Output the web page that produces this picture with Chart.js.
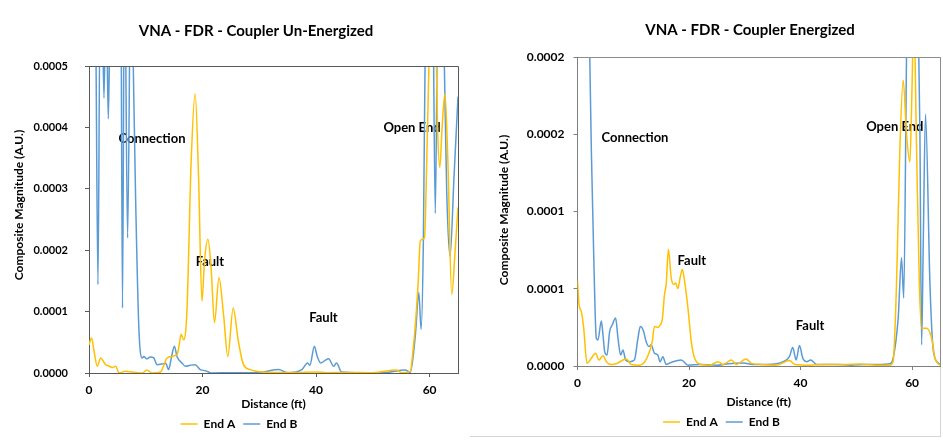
<!DOCTYPE html>
<html>
<head>
<meta charset="utf-8">
<script src="https://cdn.jsdelivr.net/npm/chart.js@4.4.1/dist/chart.umd.min.js"></script>
<style>
  html, body { margin: 0; padding: 0; background: #fff; }
  #wrap { position: relative; width: 943px; height: 445px; overflow: hidden; }
  #left { position: absolute; left: 0; top: 0; }
  #right { position: absolute; left: 470px; top: 0; }
  #frame { position: absolute; left: 470px; top: 57px; width: 470px; height: 379px;
           border-right: 1px solid #d4d4d4; border-bottom: 1px solid #d4d4d4; }
</style>
</head>
<body>
<div id="wrap">
  <canvas id="left" width="470" height="445"></canvas>
  <div id="frame"></div>
  <canvas id="right" width="473" height="445"></canvas>
</div>
<script>
// distances in ft, magnitudes in units of 1e-5 A.U.
const xTicks = [0, 20, 40, 60];

const yTicksUn = [0, 0.0001, 0.0002, 0.0003, 0.0004, 0.0005];
const yLabelsUn = ['0.0000', '0.0001', '0.0002', '0.0003', '0.0004', '0.0005'];
const yTicksEn = [0, 0.00005, 0.0001, 0.00015, 0.0002];
const yLabelsEn = ['0.0000', '0.0001', '0.0001', '0.0002', '0.0002'];

// Coupler Un-Energized, End A
const unEndA_ft = [0, 0.45, 0.9, 1.45, 2.05, 2.9, 3.6, 4.1, 4.7, 5.3, 6.4, 7.6, 9.4, 10.2, 11.1, 12.6,
  13.75, 14.6, 15.5, 15.8, 16.25, 16.65, 17.25, 18.0, 18.7, 19.3, 19.9, 20.35, 20.95, 21.5, 22.1, 22.9,
  23.7, 24.45, 25.4, 26.3, 27.2, 28.4, 30.7, 33, 36.6, 39.8, 42, 45.4, 50, 54.2, 55.1, 56.6, 57.0, 57.5,
  58.0, 58.35, 58.8, 59.1, 59.5, 60.0, 60.5, 61.0, 61.4, 61.8, 62.2, 62.7, 63.2, 63.9, 64.5, 65];
const unEndA_mag = [4.6, 5.7, 3.5, 1.1, 2.45, 1.4, 1.1, 0.9, 1.1, 0, 0.27, 0.16, 0, 0.5, 0, 0.16,
  2.45, 2.7, 3.0, 4.1, 6.3, 5.4, 10.1, 34.6, 45.5, 31.9, 11.7, 18.3, 21.8, 17.2, 8.2, 15.5,
  9.5, 2.7, 10.6, 5.2, 1.4, 0.55, 0.16, 0.1, 0.1, 0.16, 0.05, 0.1, 0.05, 0.5, 0.05, 0.27, 3.0, 8.0,
  15, 21.5, 21.8, 22, 34.6, 55, 70, 60, 40, 33.5, 40, 45.5, 35, 12.8, 20, 27];

// Coupler Un-Energized, End B
const unEndB_ft = [0, 0.6, 1.2, 1.58, 1.95, 2.3, 2.64, 2.95, 3.15, 3.4, 3.65, 4.2, 5.0, 5.6, 5.9, 6.25,
  6.8, 7.4, 7.8, 8.2, 8.78, 9.36, 9.65, 10.2, 10.8, 11.4, 12.0, 12.9, 13.5, 14.04, 14.5, 15.04, 15.5,
  16.4, 17.0, 17.8, 18.7, 19.6, 20.5, 21.6, 25, 30, 33.4, 35, 37.5, 38.5, 38.9, 39.7, 40.2, 40.8, 42.2,
  43.1, 43.6, 44.5, 48, 52, 55.7, 56.6, 57.5, 58.1, 58.5, 58.9, 59.3, 60, 60.6, 61.0, 61.4, 62.0, 62.6,
  63.0, 63.6, 64.3, 65];
const unEndB_mag = [80, 90, 55, 14.4, 60, 60, 44.8, 60, 55, 41.4, 55, 80, 90, 70, 10.6, 70,
  22, 70, 50, 29, 7.4, 2.45, 2.7, 2.3, 2.6, 2.45, 1.36, 1.47, 1.6, 0.55, 2.45, 4.36, 2.7,
  1.6, 1.1, 1.25, 1.36, 0.55, 0.38, 0, 0.05, 0.1, 0.55, 0.05, 0.55, 1.64, 1.25, 4.36, 2.7, 1.64, 2.34,
  1.1, 1.64, 0.16, 0.05, 0.05, 0.5, 0.1, 6.3, 13.1, 7.1, 21.5, 60, 80, 60, 26, 60, 80, 50,
  30, 19, 32, 45];

// Coupler Energized, End A
const enEndA_ft = [0, 0.27, 0.7, 1.1, 1.7, 2.48, 3.25, 3.85, 4.57, 5.17, 6.06, 6.96, 8.15, 8.75, 9.65,
  11.1, 12.0, 12.8, 13.4, 13.8, 14.4, 14.8, 15.2, 15.6, 15.9, 16.3, 16.8, 17.3, 17.6, 18.0, 18.4, 18.8,
  19.2, 19.8, 20.4, 21.0, 22.2, 23.7, 25.2, 26.1, 27.6, 28.5, 30.2, 31.2, 33, 35.7, 38.0, 39.0, 41.7, 44,
  47.6, 50.6, 53.6, 56.0, 56.6, 57.2, 57.8, 58.4, 59.0, 59.6, 60.0, 60.3, 60.8, 61.3, 61.7, 62.6, 63.5,
  64.1, 65];
const enEndA_mag = [5.5, 4.0, 3.5, 2.5, 0.17, 0.5, 0.82, 0.39, 0.67, 0.28, 0.1, 0.15, 0.39, 0.45, 0.1,
  0.05, 0.24, 0.82, 1.58, 2.56, 2.5, 2.63, 3.0, 4.62, 5.28, 7.55, 5.71, 5.28, 5.38, 5.01, 5.71, 6.25,
  5.49, 3.76, 1.58, 0.5, 0.1, 0.05, 0.28, 0.1, 0.39, 0.1, 0.45, 0.17, 0.1, 0.05, 0.35, 0.1, 0.05, 0.1,
  0.1, 0.13, 0.05, 0.05, 0.3, 5.27, 14, 18.5, 15, 13.2, 18.3, 23, 14, 5.27, 2.45, 2.45, 1.8,
  0.5, 0.05];

// Coupler Energized, End B
const enEndB_ft = [0, 1.0, 2.0, 2.2, 2.48, 2.96, 3.37, 3.67, 4.27, 4.57, 4.87, 5.29, 5.77, 6.24, 6.84,
  7.26, 7.74, 8.15, 8.63, 9.35, 10.2, 10.84, 11.26, 11.86, 12.3, 12.8, 13.2, 13.8, 14.4, 14.8, 15.3,
  15.9, 17.1, 18.6, 19.8, 22, 25, 27, 29.7, 31.5, 34, 36.9, 38.0, 38.6, 39.2, 39.8, 40.4, 41.1, 41.8,
  42.9, 46.5, 49, 51.8, 54, 56.0, 56.6, 57.5, 58.1, 58.5, 59.0, 59.5, 60.3, 61.0, 61.4, 61.7, 62.0,
  62.4, 63.2, 63.8, 64.7, 65];
const enEndB_mag = [40, 50, 25, 20, 14, 6.35, 1.8, 1.69, 2.92, 2.02, 0.93, 0.71, 2.24, 2.67, 3.1,
  1.8, 0.71, 1.04, 0.39, 0.28, 0.39, 1.8, 2.56, 2.24, 1.58, 1.26, 1.37, 0.82, 0.71, 0.28, 0.6,
  0.1, 0.28, 0.39, 0.05, 0.1, 0.05, 0.15, 0.2, 0.1, 0.1, 0.28, 0.6, 1.19, 0.39, 1.32, 0.5, 0.28, 0.39,
  0.1, 0.1, 0.05, 0.1, 0.1, 0.15, 0.5, 3.1, 7.0, 4.4, 20, 30, 35, 25, 15, 1.37, 8,
  16.3, 5.27, 1.0, 0.2, 0.1];

const COLOR_A = '#FFC000';
const COLOR_B = '#5B9BD5';

function toPoints(ft, mag) {
  return ft.map((d, i) => ({ x: d, y: mag[i] * 1e-5 }));
}

// chart title, rotated y title, plot frame and the text notes
const extras = {
  id: 'extras',
  beforeDatasetsDraw(chart, args, opts) {
    const { ctx, scales: { x, y } } = chart;
    ctx.save();
    ctx.fillStyle = '#000';
    ctx.font = 'bold 13px Lato';
    ctx.textAlign = 'center';
    ctx.textBaseline = 'middle';
    opts.notes.forEach(n => ctx.fillText(n.text, x.getPixelForValue(n.x), y.getPixelForValue(n.y)));
    ctx.restore();
  },
  afterDraw(chart, args, opts) {
    const { ctx, chartArea: a } = chart;
    ctx.save();
    ctx.strokeStyle = opts.frameColor;
    ctx.lineWidth = 1;
    ctx.beginPath();
    ctx.moveTo(Math.round(a.left), Math.round(a.top) + 0.5);
    ctx.lineTo(Math.round(a.right) + 0.5, Math.round(a.top) + 0.5);
    ctx.lineTo(Math.round(a.right) + 0.5, Math.round(a.bottom));
    ctx.stroke();

    ctx.fillStyle = '#000';
    ctx.textAlign = 'center';
    ctx.textBaseline = 'middle';
    ctx.font = 'bold 15px Lato';
    ctx.fillText(opts.title.text, opts.title.x, opts.title.y);

    ctx.font = 'bold 12px Lato';
    ctx.translate(opts.yTitle.x, opts.yTitle.y);
    ctx.rotate(-Math.PI / 2);
    ctx.fillText(opts.yTitle.text, 0, 0);
    ctx.restore();
  }
};

function buildChart(id, cfg) {
  const ctx = document.getElementById(id);
  return new Chart(ctx, {
    type: 'line',
    data: {
      datasets: [{
        label: 'End A',
        data: toPoints(cfg.aFt, cfg.aMag),
        borderColor: COLOR_A,
        backgroundColor: COLOR_A,
        borderWidth: 1.5,
        pointRadius: 0,
        cubicInterpolationMode: 'monotone'
      }, {
        label: 'End B',
        data: toPoints(cfg.bFt, cfg.bMag),
        borderColor: COLOR_B,
        backgroundColor: COLOR_B,
        borderWidth: 1.5,
        pointRadius: 0,
        cubicInterpolationMode: 'monotone'
      }]
    },
    options: {
      responsive: false,
      animation: false,
      events: [],
      layout: { padding: cfg.padding },
      scales: {
        x: {
          type: 'linear',
          min: 0,
          max: 65,
          afterBuildTicks: s => { s.ticks = xTicks.map(v => ({ value: v })); },
          afterFit: s => { s.height = cfg.xHeight; },
          grid: { drawOnChartArea: false, tickLength: 4, color: cfg.axisColor },
          border: { color: cfg.axisColor },
          ticks: { padding: 6, color: '#000', font: { size: 12, weight: 'bold' } },
          title: {
            display: true, text: 'Distance (ft)', color: '#000',
            font: { size: 12, weight: 'bold', lineHeight: 1 }, padding: { top: 0, bottom: 0 }
          }
        },
        y: {
          min: 0,
          max: cfg.yTicks[cfg.yTicks.length - 1],
          afterBuildTicks: s => { s.ticks = cfg.yTicks.map(v => ({ value: v })); },
          afterFit: s => { s.width = cfg.yWidth; },
          grid: { drawOnChartArea: false, tickLength: 4, color: cfg.axisColor },
          border: { color: cfg.axisColor },
          ticks: {
            padding: cfg.yPad, color: '#000',
            font: { size: cfg.yFont, weight: 'bold' },
            callback: (v, i) => cfg.yLabels[i]
          }
        }
      },
      plugins: {
        title: { display: false },
        tooltip: { enabled: false },
        legend: {
          position: 'bottom',
          labels: {
            usePointStyle: true,
            pointStyle: 'line',
            pointStyleWidth: 17,
            boxHeight: 12,
            padding: 8,
            color: '#000',
            font: { size: 12, weight: 'bold' }
          }
        },
        extras: {
          frameColor: cfg.frameColor,
          title: cfg.title,
          yTitle: cfg.yTitle,
          notes: cfg.notes
        }
      }
    },
    plugins: [extras]
  });
}

Chart.defaults.font.family = 'Lato';

buildChart('left', {
  aFt: unEndA_ft, aMag: unEndA_mag, bFt: unEndB_ft, bMag: unEndB_mag,
  yTicks: yTicksUn, yLabels: yLabelsUn,
  padding: { left: 20, right: 12, top: 66, bottom: 5 },
  xHeight: 37, yWidth: 69, yPad: 17, yFont: 11,
  axisColor: '#595959', frameColor: '#595959',
  title: { text: 'VNA - FDR - Coupler Un-Energized', x: 256, y: 31 },
  yTitle: { text: 'Composite Magnitude (A.U.)', x: 19, y: 205 },
  notes: [
    { text: 'Connection', x: 11.1, y: 0.000381 },
    { text: 'Fault', x: 21.3, y: 0.000181 },
    { text: 'Fault', x: 41.3, y: 0.00009 },
    { text: 'Open End', x: 56.9, y: 0.000399 }
  ]
});

buildChart('right', {
  aFt: enEndA_ft, aMag: enEndA_mag, bFt: enEndB_ft, bMag: enEndB_mag,
  yTicks: yTicksEn, yLabels: yLabelsEn,
  padding: { left: 33, right: 3, top: 57, bottom: 7 },
  xHeight: 42, yWidth: 74.5, yPad: 9, yFont: 12,
  axisColor: '#7f7f7f', frameColor: '#8c8c8c',
  title: { text: 'VNA - FDR - Coupler Energized', x: 280, y: 30 },
  yTitle: { text: 'Composite Magnitude (A.U.)', x: 34, y: 210 },
  notes: [
    { text: 'Connection', x: 10.3, y: 0.000148 },
    { text: 'Fault', x: 20.5, y: 0.0000684 },
    { text: 'Fault', x: 41.7, y: 0.000026 },
    { text: 'Open End', x: 56.9, y: 0.000155 }
  ]
});
</script>
</body>
</html>
